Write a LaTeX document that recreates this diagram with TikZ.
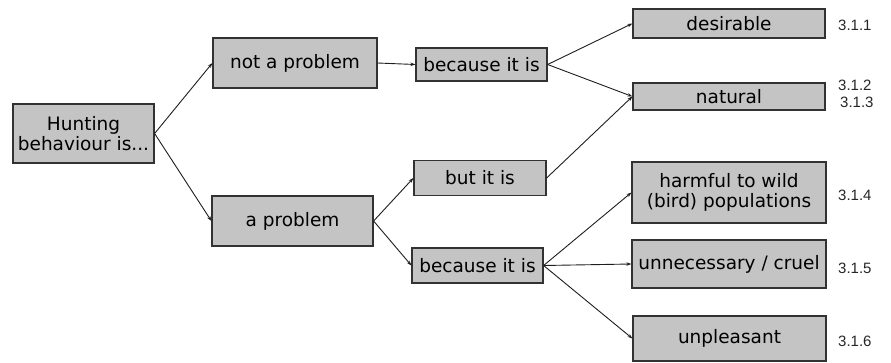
\documentclass[tikz,border=0pt]{standalone}
\usepackage{fontspec}
\setmainfont{DejaVu Sans}
\newfontfamily\numfont{Liberation Sans}
\usetikzlibrary{arrows.meta}
\definecolor{boxfill}{RGB}{196,196,196}
\definecolor{boxline}{RGB}{50,50,50}
\definecolor{lnk}{RGB}{30,30,30}
\tikzset{
  box/.style={draw=boxline, line width=1.2pt, fill=boxfill, rectangle, inner sep=0pt,
    align=center, font=\fontsize{18.5}{20.5}\selectfont},
  link/.style={draw=lnk, line width=0.9pt, -{Stealth[length=5pt,width=3.5pt]}},
  num/.style={anchor=west, inner sep=0pt, font=\numfont\fontsize{15}{17}\selectfont, text=black!85}
}
\begin{document}
\begin{tikzpicture}[x=1pt,y=-1pt]
\useasboundingbox (0,0) rectangle (891,362);
\node[box, minimum width=141pt, minimum height=59pt] (hunt) at (83.5,133.5) {Hunting\\behaviour is...};
\node[box, minimum width=164pt, minimum height=50pt] (np) at (295,63) {not a problem};
\node[box, minimum width=161pt, minimum height=50pt] (ap) at (292.5,221) {a problem};
\node[box, minimum width=131pt, minimum height=33pt] (bt1) at (481.5,64.5) {because it is};
\node[box, minimum width=132pt, minimum height=35pt] (but) at (480,178) {but it is};
\node[box, minimum width=131pt, minimum height=35pt] (bt2) at (477.5,265.5) {because it is};
\node[box, minimum width=192pt, minimum height=29pt] (des) at (729,23.5) {desirable};
\node[box, minimum width=192pt, minimum height=27pt] (nat) at (729,96.5) {natural};
\node[box, minimum width=194pt, minimum height=61pt] (harm) at (729,192.5) {harmful to wild\\(bird) populations};
\node[box, minimum width=194pt, minimum height=48pt] (unn) at (729,264) {unnecessary / cruel};
\node[box, minimum width=193pt, minimum height=45pt] (unp) at (729.5,338.5) {unpleasant};
\node[num] (n1) at (838,25) {3.1.1};
\node[num] (n2) at (838,85) {3.1.2};
\node[num] (n3) at (840,102) {3.1.3};
\node[num] (n4) at (838,195) {3.1.4};
\node[num] (n5) at (838,268) {3.1.5};
\node[num] (n6) at (838,341) {3.1.6};
\draw[link] (hunt.east) -- (np.west);
\draw[link] (hunt.east) -- (ap.west);
\draw[link] (np.east) -- (bt1.west);
\draw[link] (bt1.east) -- (des.west);
\draw[link] (bt1.east) -- (nat.west);
\draw[link] (ap.east) -- (but.west);
\draw[link] (ap.east) -- (bt2.west);
\draw[link] (but.east) -- (nat.west);
\draw[link] (bt2.east) -- (harm.west);
\draw[link] (bt2.east) -- (unn.west);
\draw[link] (bt2.east) -- (unp.west);
\end{tikzpicture}
\end{document}
